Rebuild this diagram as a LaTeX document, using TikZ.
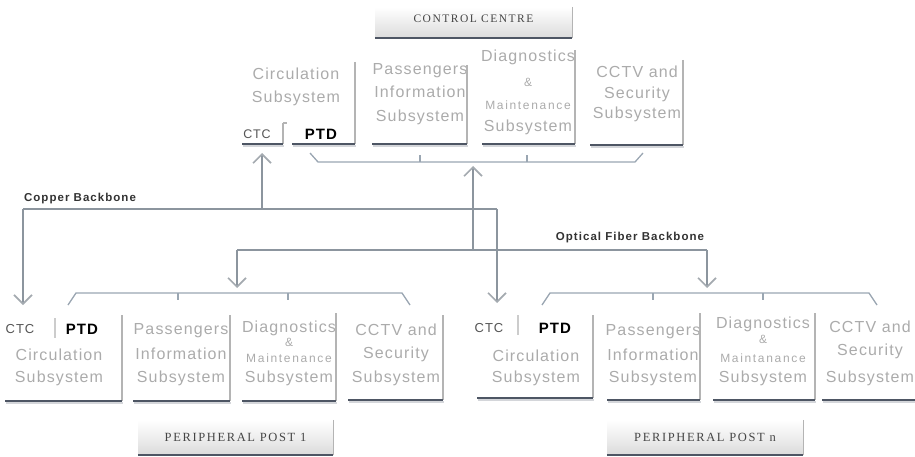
\documentclass[tikz,border=0pt]{standalone}
\usepackage{fontspec}
\setmainfont{Liberation Sans}
\newfontfamily\subf[LetterSpace=7]{Liberation Sans}
\newfontfamily\smf[LetterSpace=14]{Liberation Sans}
\newfontfamily\ttlf[LetterSpace=13]{Liberation Serif}
\newfontfamily\bbf[LetterSpace=9]{Liberation Sans}
\usetikzlibrary{arrows.meta}
\definecolor{subgray}{HTML}{ABABAB}
\definecolor{linec}{HTML}{8C959E}
\definecolor{arrowc}{HTML}{A4AAB0}
\definecolor{brkc}{HTML}{9AA6B2}
\definecolor{edged}{HTML}{4E5664}
\definecolor{edgel}{HTML}{B4B4B4}
\definecolor{shadl}{HTML}{D4D6DA}
\definecolor{ttltext}{HTML}{454545}
\definecolor{ctcc}{HTML}{555555}
\definecolor{lblc}{HTML}{333333}
\newcommand\myedges[4]{%
  \draw[edgelight] (#2,#3) -- (#2,#4);
  \draw[shadowline] (#1+1,#4+2.2) -- (#2+1,#4+2.2);
  \draw[edgedark] (#1,#4) -- (#2,#4);
}
\begin{document}
\begin{tikzpicture}[x=1pt,y=-1pt,
  sub/.style={font=\subf\fontsize{16}{16}\selectfont, text=subgray, inner sep=0pt, text height=11.5pt, text depth=0pt, anchor=center},
  subsm/.style={font=\smf\fontsize{12}{12}\selectfont, text=subgray, inner sep=0pt, text height=8.6pt, text depth=0pt, anchor=center},
  ctcs/.style={font=\subf\fontsize{#1}{#1}\selectfont, text=ctcc, inner sep=0pt, text height=0.72*#1, text depth=0pt, anchor=center},
  ptds/.style={font=\subf\bfseries\fontsize{15}{15}\selectfont, text=black, inner sep=0pt, text height=10.8pt, text depth=0pt, anchor=center},
  ttlbox/.style={top color=white, bottom color=black!14, font=\ttlf\fontsize{#1}{#1}\selectfont, text=ttltext, inner sep=0pt},
  bbl/.style={font=\bbf\bfseries\fontsize{11.5}{11.5}\selectfont, text=lblc, inner sep=0pt, text height=8.3pt, text depth=0pt},
  edgelight/.style={draw=edgel, line width=1.1pt},
  edgedark/.style={draw=edged, line width=2pt},
  shadowline/.style={draw=shadl, line width=1.6pt},
  sepline/.style={draw=black!20, line width=1.3pt},
  conn/.style={draw=linec, line width=1.3pt},
  arr/.style={-{Straight Barb[length=9pt,width=18pt,line width=1.6pt,color=arrowc]}},
  brk/.style={draw=brkc, line width=1.3pt},
]
\useasboundingbox (0,0) rectangle (915,457);

% ---------- title boxes ----------
\node[ttlbox=11.5, minimum width=197pt, minimum height=31pt, text height=8pt, text depth=7pt] (cc) at (473.5,22.5) {CONTROL CENTRE};
\draw[edgelight] (cc.north east) -- (cc.south east);
\draw[edgedark] (cc.south west) -- (cc.south east);

\node[ttlbox=12.5, minimum width=195pt, minimum height=35pt] (pp1) at (235.5,437.5) {PERIPHERAL POST 1};
\draw[edgelight] (pp1.north east) -- (pp1.south east);
\draw[edgedark] (pp1.south west) -- (pp1.south east);

\node[ttlbox=12.5, minimum width=196pt, minimum height=35pt] (ppn) at (705,437.5) {PERIPHERAL POST n};
\draw[edgelight] (ppn.north east) -- (ppn.south east);
\draw[edgedark] (ppn.south west) -- (ppn.south east);

% ---------- control centre subsystems ----------
\node[sub] (tca) at (296,74) {Circulation};
\node[sub] (tcb) at (296,97) {Subsystem};
\node[ctcs=12.5] (tctc) at (257,134) {CTC};
\node[ptds] (tptd) at (321,134) {PTD};
\draw[edgelight] (283,123) -- (283,144);
\draw[edgelight] (283,123) -- (287,123);
\draw[shadowline] (243,146.2) -- (284,146.2);
\draw[edgedark] (242,144) -- (283,144);
\myedges{292}{355}{62}{144}

\node[sub] (tpa) at (420,69) {Passengers};
\node[sub] (tpb) at (420,92) {Information};
\node[sub] (tpc) at (420,116) {Subsystem};
\myedges{372}{467}{65}{144}

\node[sub] (tda) at (528,56) {Diagnostics};
\node[subsm] (tdb) at (528,82) {\&};
\node[subsm] (tdc) at (528,105) {Maintenance};
\node[sub] (tdd) at (528,126) {Subsystem};
\myedges{482}{575}{50}{144}

\node[sub] (tsa) at (637,72) {CCTV and};
\node[sub] (tsb) at (637,93) {Security};
\node[sub] (tsc) at (637,113) {Subsystem};
\myedges{590}{683}{60}{145}

% ---------- peripheral post 1 ----------
\node[ctcs=13] (actc) at (20,329) {CTC};
\draw[sepline] (55,318) -- (55,338);
\node[ptds] (aptd) at (82,329) {PTD};
\node[sub] (aca) at (59,355) {Circulation};
\node[sub] (acb) at (59,377) {Subsystem};
\myedges{5}{122}{315}{401}

\node[sub] (apa) at (181,329) {Passengers};
\node[sub] (apb) at (181,354) {Information};
\node[sub] (apc) at (181,377) {Subsystem};
\myedges{133}{230}{315}{401}

\node[sub] (ada) at (289,327) {Diagnostics};
\node[subsm] (adb) at (289,342) {\&};
\node[subsm] (adc) at (289,358) {Maintenance};
\node[sub] (add) at (289,377) {Subsystem};
\myedges{242}{336}{313}{401}

\node[sub] (asa) at (396,330) {CCTV and};
\node[sub] (asb) at (396,353) {Security};
\node[sub] (asc) at (396,377) {Subsystem};
\myedges{348}{443}{315}{400}

% ---------- peripheral post n ----------
\node[ctcs=13] (bctc) at (489,328) {CTC};
\draw[sepline] (518,315) -- (518,335);
\node[ptds] (bptd) at (555,328) {PTD};
\node[sub] (bca) at (536,356) {Circulation};
\node[sub] (bcb) at (536,377) {Subsystem};
\myedges{477}{593}{315}{398}

\node[sub] (bpa) at (653,330) {Passengers};
\node[sub] (bpb) at (653,355) {Information};
\node[sub] (bpc) at (653,377) {Subsystem};
\myedges{607}{700}{313}{400}

\node[sub] (bda) at (763,323) {Diagnostics};
\node[subsm] (bdb) at (763,339) {\&};
\node[subsm] (bdc) at (763,358) {Maintanance};
\node[sub] (bdd) at (763,377) {Subsystem};
\myedges{713}{815}{313}{400}

\node[sub] (bsa) at (870,327) {CCTV and};
\node[sub] (bsb) at (870,350) {Security};
\node[sub] (bsc) at (870,377) {Subsystem};
\myedges{822}{918}{315}{400}

% ---------- brackets ----------
\draw[brk] (310,153) -- (318,162) -- (635,162) -- (643,153);
\draw[brk] (420,162) -- (420,155);
\draw[brk] (527,162) -- (527,155);

\draw[brk] (68,305) -- (76,293) -- (402,293) -- (410,305);
\draw[brk] (178,293) -- (178,300);
\draw[brk] (288,293) -- (288,300);

\draw[brk] (542,305) -- (550,293) -- (869,293) -- (877,305);
\draw[brk] (653,293) -- (653,300);
\draw[brk] (763,293) -- (763,300);

% ---------- backbones ----------
\coordinate (cpL) at (23,209);
\coordinate (cpM) at (262,209);
\coordinate (cpR) at (497,209);
\coordinate (ctcTop) at (262,153);
\coordinate (ctcA) at (23,305);
\coordinate (ctcB) at (497,303);

\coordinate (ofL) at (237,250);
\coordinate (ofM) at (473,250);
\coordinate (ofR) at (707,250);
\coordinate (brTop) at (473,166);
\coordinate (brA) at (237,288);
\coordinate (brB) at (707,288);

\draw[conn] (cpL) -- (cpR);
\draw[conn,arr] (cpL) -- (ctcA);
\draw[conn,arr] (cpR) -- (ctcB);
\draw[conn,arr] (cpM) -- (ctcTop);

\draw[conn] (ofL) -- (ofR);
\draw[conn,arr] (ofL) -- (brA);
\draw[conn,arr] (ofR) -- (brB);
\draw[conn,arr] (ofM) -- (brTop);

\node[bbl] (cul) at (80,197) {Copper Backbone};
\node[bbl] (ofl) at (630,236) {Optical Fiber Backbone};
\end{tikzpicture}
\end{document}
